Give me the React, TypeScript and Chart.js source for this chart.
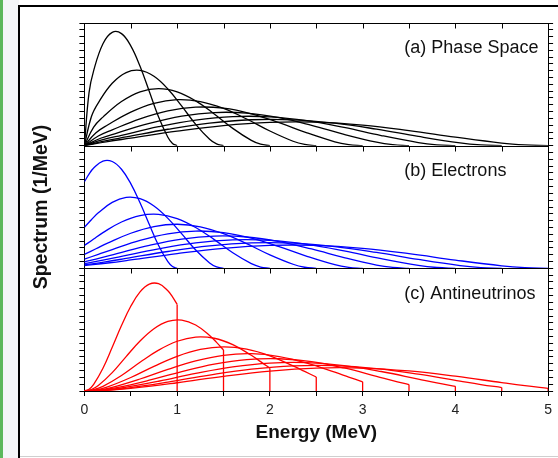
import { useEffect, useRef } from "react";
import { Chart, registerables } from "chart.js";

Chart.register(...registerables);

// Beta-decay endpoint energies (MeV), one curve per endpoint in every panel
const ENDPOINTS = [1.0, 1.5, 2.0, 2.5, 3.0, 3.5, 4.0, 4.5, 5.0];

// Sample positions along each curve, as a fraction of its endpoint energy
const FRACTIONS = [0, 0.05, 0.1, 0.2, 0.3, 0.4, 0.5, 0.6, 0.7, 0.8, 0.9, 0.95, 1];

// (a) phase-space spectra (1/MeV) vs kinetic energy
const PHASE_SPACE = [
  [0, 0.779, 1.102, 1.495, 1.662, 1.644, 1.465, 1.165, 0.795, 0.421, 0.124, 0.033, 0],
  [0, 0.425, 0.629, 0.915, 1.073, 1.105, 1.018, 0.832, 0.58, 0.313, 0.093, 0.025, 0],
  [0, 0.272, 0.419, 0.647, 0.79, 0.838, 0.79, 0.657, 0.466, 0.254, 0.077, 0.021, 0],
  [0, 0.19, 0.303, 0.492, 0.621, 0.675, 0.647, 0.546, 0.391, 0.215, 0.065, 0.018, 0],
  [0, 0.141, 0.232, 0.394, 0.511, 0.565, 0.55, 0.468, 0.338, 0.188, 0.057, 0.016, 0],
  [0, 0.109, 0.185, 0.327, 0.433, 0.486, 0.478, 0.41, 0.298, 0.166, 0.051, 0.014, 0],
  [0, 0.087, 0.152, 0.278, 0.375, 0.426, 0.423, 0.366, 0.267, 0.149, 0.046, 0.013, 0],
  [0, 0.071, 0.128, 0.241, 0.331, 0.38, 0.379, 0.33, 0.242, 0.136, 0.042, 0.012, 0],
  [0, 0.06, 0.11, 0.212, 0.295, 0.342, 0.344, 0.301, 0.221, 0.125, 0.038, 0.011, 0],
];

// (b) electron spectra (1/MeV) vs electron kinetic energy
const ELECTRONS = [
  [1.27, 1.382, 1.471, 1.574, 1.568, 1.454, 1.243, 0.961, 0.642, 0.334, 0.097, 0.026, 0],
  [0.601, 0.713, 0.814, 0.968, 1.041, 1.022, 0.914, 0.733, 0.505, 0.269, 0.08, 0.022, 0],
  [0.334, 0.431, 0.524, 0.68, 0.774, 0.792, 0.73, 0.599, 0.421, 0.228, 0.068, 0.019, 0],
  [0.205, 0.287, 0.369, 0.515, 0.613, 0.647, 0.61, 0.509, 0.362, 0.198, 0.06, 0.016, 0],
  [0.135, 0.205, 0.276, 0.41, 0.506, 0.547, 0.524, 0.443, 0.318, 0.176, 0.053, 0.015, 0],
  [0.094, 0.153, 0.216, 0.338, 0.43, 0.473, 0.46, 0.393, 0.284, 0.158, 0.048, 0.013, 0],
  [0.068, 0.119, 0.175, 0.286, 0.373, 0.417, 0.41, 0.353, 0.257, 0.143, 0.044, 0.012, 0],
  [0.051, 0.095, 0.145, 0.247, 0.329, 0.373, 0.37, 0.32, 0.234, 0.131, 0.04, 0.011, 0],
  [0.039, 0.078, 0.123, 0.217, 0.294, 0.337, 0.337, 0.293, 0.215, 0.121, 0.037, 0.01, 0],
];

// (c) antineutrino spectra (1/MeV) vs antineutrino energy; each ends in a step at its endpoint
const ANTINEUTRINOS = [
  [0, 0.026, 0.097, 0.334, 0.642, 0.961, 1.243, 1.454, 1.568, 1.574, 1.471, 1.382, 1.27],
  [0, 0.022, 0.08, 0.269, 0.505, 0.733, 0.914, 1.022, 1.041, 0.968, 0.814, 0.713, 0.601],
  [0, 0.019, 0.068, 0.228, 0.421, 0.599, 0.73, 0.792, 0.774, 0.68, 0.524, 0.431, 0.334],
  [0, 0.016, 0.06, 0.198, 0.362, 0.509, 0.61, 0.647, 0.613, 0.515, 0.369, 0.287, 0.205],
  [0, 0.015, 0.053, 0.176, 0.318, 0.443, 0.524, 0.547, 0.506, 0.41, 0.276, 0.205, 0.135],
  [0, 0.013, 0.048, 0.158, 0.284, 0.393, 0.46, 0.473, 0.43, 0.338, 0.216, 0.153, 0.094],
  [0, 0.012, 0.044, 0.143, 0.257, 0.353, 0.41, 0.417, 0.373, 0.286, 0.175, 0.119, 0.068],
  [0, 0.011, 0.04, 0.131, 0.234, 0.32, 0.37, 0.373, 0.329, 0.247, 0.145, 0.095, 0.051],
  [0, 0.01, 0.037, 0.121, 0.215, 0.293, 0.337, 0.337, 0.294, 0.217, 0.123, 0.078, 0.039],
];

const PANEL_LABELS = ["(a) Phase Space", "(b) Electrons", "(c) Antineutrinos"];
const PANEL_AXES = ["yA", "yB", "yC"];
const PANEL_COLORS = ["#000000", "#0000ff", "#ff0000"];

const X_MIN = 0;
const X_MAX = 5;
const X_STEP = 0.5;
const Y_MAX = 1.8;
const Y_STEP = 0.1;

const FONT = '"Liberation Sans", Arial, Helvetica, sans-serif';

function curveDataset(values: number[], endpoint: number, color: string, axis: string) {
  return {
    data: values.map((v, i) => ({ x: FRACTIONS[i] * endpoint, y: v })),
    borderColor: color,
    borderWidth: 1.3,
    pointRadius: 0,
    fill: false,
    tension: 0.4,
    xAxisID: "x",
    yAxisID: axis,
  };
}

function stepDataset(values: number[], endpoint: number, color: string, axis: string) {
  const last = values[values.length - 1];
  return {
    data: [
      { x: endpoint, y: last },
      { x: endpoint, y: 0 },
    ],
    borderColor: color,
    borderWidth: 1.3,
    pointRadius: 0,
    fill: false,
    tension: 0,
    xAxisID: "x",
    yAxisID: axis,
  };
}

function panelAxis(position: "left" | "right", weight: number, title?: string) {
  return {
    type: "linear" as const,
    position,
    stack: position,
    stackWeight: 1,
    weight,
    min: 0,
    max: Y_MAX,
    ticks: { display: false, stepSize: Y_STEP },
    grid: { drawOnChartArea: false, tickLength: 5, color: "#000", lineWidth: 1 },
    border: { display: true, color: "#000", width: 1 },
    title: title
      ? {
          display: true,
          text: title,
          color: "#111",
          font: { family: FONT, size: 19.5, weight: "bold" as const },
          padding: { top: 4, bottom: 26 },
        }
      : { display: false },
  };
}

// Panel top edges, inward x ticks on them, and the panel captions
const panelFrame = {
  id: "panelFrame",
  afterDraw(chart: any) {
    const { ctx, chartArea, scales } = chart;
    const xs = scales.x;
    ctx.save();
    ctx.strokeStyle = "#000";
    ctx.lineWidth = 1;
    PANEL_AXES.forEach((id) => {
      const top = Math.round(scales[id].top) + 0.5;
      ctx.beginPath();
      ctx.moveTo(chartArea.left, top);
      ctx.lineTo(chartArea.right, top);
      xs.ticks.forEach((t: any) => {
        const px = Math.round(xs.getPixelForValue(t.value)) + 0.5;
        ctx.moveTo(px, top);
        ctx.lineTo(px, top + 5);
      });
      ctx.stroke();
    });
    ctx.fillStyle = "#111";
    ctx.font = `18px ${FONT}`;
    ctx.textAlign = "left";
    ctx.textBaseline = "middle";
    PANEL_LABELS.forEach((label, i) => {
      const s = scales[PANEL_AXES[i]];
      ctx.fillText(label, xs.getPixelForValue(3.45), s.top + 25.5);
    });
    ctx.restore();
  },
};

export default function App() {
  const canvasRef = useRef<HTMLCanvasElement | null>(null);

  useEffect(() => {
    if (!canvasRef.current) return;
    const panels = [PHASE_SPACE, ELECTRONS, ANTINEUTRINOS];
    const datasets: any[] = [];
    panels.forEach((series, p) => {
      series.forEach((values, i) => {
        datasets.push(curveDataset(values, ENDPOINTS[i], PANEL_COLORS[p], PANEL_AXES[p]));
      });
    });
    ANTINEUTRINOS.forEach((values, i) => {
      datasets.push(stepDataset(values, ENDPOINTS[i], PANEL_COLORS[2], "yC"));
    });

    const chart = new Chart(canvasRef.current, {
      type: "line",
      data: { datasets },
      options: {
        animation: false,
        responsive: true,
        maintainAspectRatio: false,
        layout: { padding: { left: 26, right: 0, top: 23, bottom: 10.6 } },
        plugins: { legend: { display: false }, tooltip: { enabled: false } },
        scales: {
          x: {
            type: "linear",
            position: "bottom",
            min: X_MIN,
            max: X_MAX,
            ticks: {
              stepSize: X_STEP,
              autoSkip: false,
              maxRotation: 0,
              padding: 6,
              color: "#222",
              font: { family: FONT, size: 14, lineHeight: 1.1 },
              callback: (v: any) => (Number.isInteger(v) ? String(v) : ""),
            },
            grid: { drawOnChartArea: false, tickLength: 5, color: "#000", lineWidth: 1 },
            border: { display: true, color: "#000", width: 1 },
            title: {
              display: true,
              text: "Energy (MeV)",
              color: "#111",
              font: { family: FONT, size: 19, weight: "bold", lineHeight: 1.0 },
              padding: { top: 0, bottom: 5 },
            },
          },
          yC: panelAxis("left", 1),
          yB: panelAxis("left", 2, "Spectrum (1/MeV)"),
          yA: panelAxis("left", 3),
          yAr: panelAxis("right", 1),
          yBr: panelAxis("right", 2),
          yCr: panelAxis("right", 3),
        },
      } as any,
      plugins: [panelFrame],
    });
    return () => chart.destroy();
  }, []);

  return (
    <div style={{ position: "fixed", left: 0, top: 0, width: 558, height: 458, background: "#fff", overflow: "hidden" }}>
      <div style={{ position: "absolute", left: 0, top: 0, width: 3, height: 458, background: "#5cb85c" }} />
      <div style={{ position: "absolute", left: 3, top: 0, width: 16, height: 458, background: "#f4f6f8" }} />
      <div style={{ position: "absolute", left: 18, top: 5, width: 2, height: 453, background: "#000" }} />
      <div style={{ position: "absolute", left: 18, top: 5, width: 540, height: 2, background: "#000" }} />
      <div style={{ position: "absolute", left: 20, top: 456, width: 538, height: 1, background: "#cfcfcf" }} />
      <canvas ref={canvasRef} style={{ position: "absolute", left: 0, top: 0, width: 558, height: 458 }} />
    </div>
  );
}
